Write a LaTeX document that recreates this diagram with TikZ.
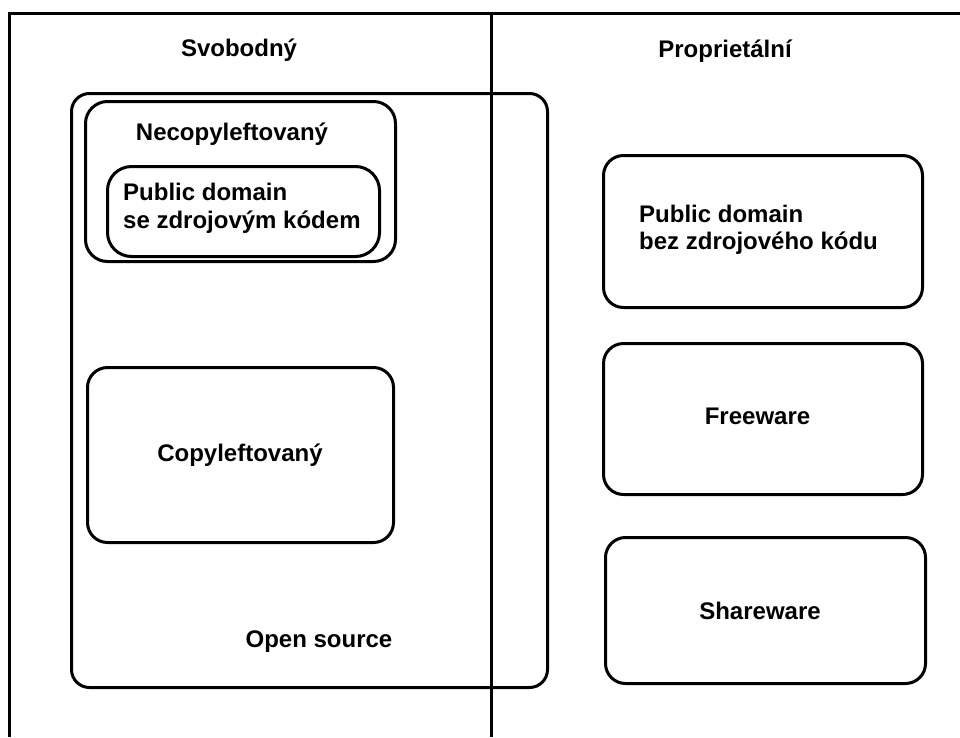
\documentclass[tikz,border=0pt]{standalone}
\usepackage{fontspec}
\setmainfont{Liberation Sans}
\begin{document}
\begin{tikzpicture}[x=1pt,y=-1pt,
  box/.style={draw, line width=3pt, rounded corners=#1, inner sep=0pt, anchor=north west},
  box/.default=20pt,
  lbl/.style={inner sep=0pt, font=\fontsize{24}{27.5}\selectfont\bfseries},
  frame/.style={line width=3pt}]
\useasboundingbox (0,0) rectangle (960,737);
% frame
\coordinate (tl) at (9,13);
\coordinate (tr) at (960,13);
\coordinate (bl) at (9,737);
\coordinate (dt) at (491,13);
\coordinate (db) at (491,737);
\draw[frame] (tr) -- (tl) -- (bl);
\draw[frame] (dt) -- (db);
% boxes
\node[box=18pt, minimum width=476pt, minimum height=594pt] (os) at (70,92) {};
\node[box=22pt, minimum width=310pt, minimum height=160pt] (nec) at (84,100) {};
\node[box=24pt, minimum width=272pt, minimum height=90pt] (pdsrc) at (106,165) {};
\node[box, minimum width=306pt, minimum height=175pt] (copy) at (86,366) {};
\node[box, minimum width=319pt, minimum height=152pt] (pdbin) at (602,154) {};
\node[box, minimum width=319pt, minimum height=151pt] (free) at (602,342) {};
\node[box, minimum width=320pt, minimum height=146pt] (share) at (604,536) {};
% labels
\node[lbl, anchor=base] (svob) at (239,56) {Svobodný};
\node[lbl, anchor=base] (prop) at (725,57) {Proprietální};
\node[lbl, anchor=base] (necl) at (232,140) {Necopyleftovaný};
\node[lbl, anchor=west, align=left] (pdsrcl) at (123,208.5) {Public domain\\se zdrojovým kódem};
\node[lbl, anchor=base] (copyl) at (240,461) {Copyleftovaný};
\node[lbl, anchor=base] (osl) at (319,647) {Open source};
\node[lbl, anchor=west, align=left] (pdbinl) at (639,230) {Public domain\\bez zdrojového kódu};
\node[lbl, anchor=base] (freel) at (757.5,424) {Freeware};
\node[lbl, anchor=base] (sharel) at (760,619) {Shareware};
\end{tikzpicture}
\end{document}
